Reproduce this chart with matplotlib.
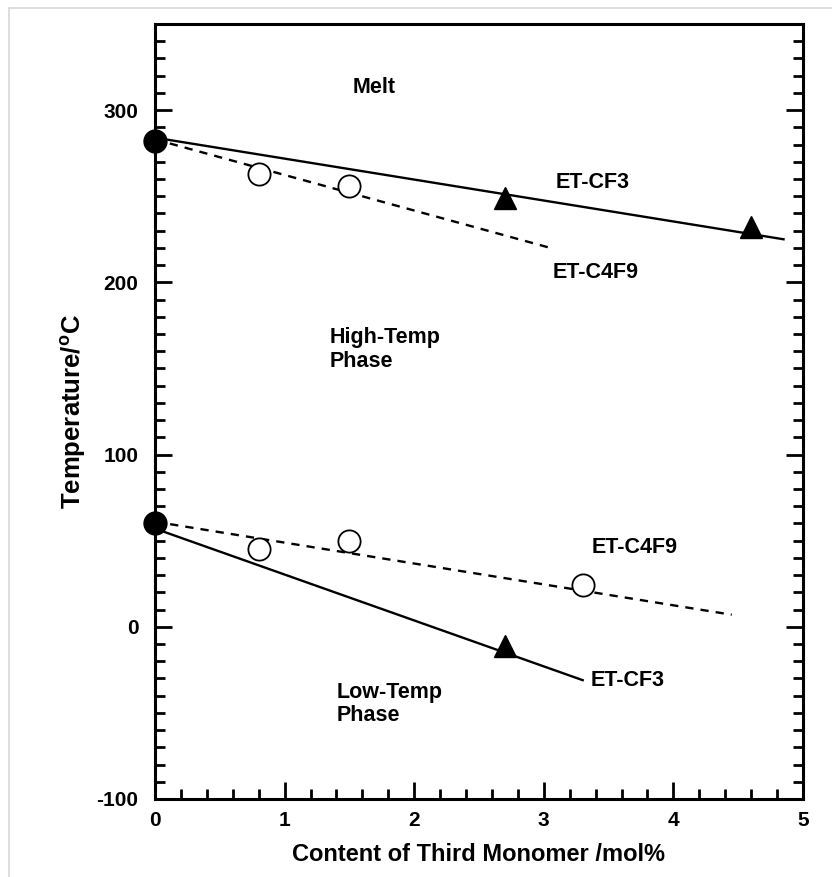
import numpy as np
import matplotlib
matplotlib.use("Agg")
import matplotlib.pyplot as plt
from matplotlib.ticker import MultipleLocator
from matplotlib.lines import Line2D

plt.rcParams["font.family"] = ["Liberation Sans", "DejaVu Sans"]
plt.rcParams["font.weight"] = "bold"
plt.rcParams["axes.labelweight"] = "bold"
plt.rcParams["axes.unicode_minus"] = False
plt.rcParams["mathtext.fontset"] = "custom"
plt.rcParams["mathtext.rm"] = "Liberation Sans:bold"

# pure polymer (0 mol%)
pure_x = [0.0, 0.0]
pure_y = [282, 60]

# ET-C4F9 points (open circles)
c4f9_high_x = [0.8, 1.5]
c4f9_high_y = [263, 256]
c4f9_low_x = [0.8, 1.5, 3.3]
c4f9_low_y = [45, 50, 24]

# ET-CF3 points (filled triangles)
cf3_high_x = [2.7, 4.6]
cf3_high_y = [249, 232]
cf3_low_x = [2.7]
cf3_low_y = [-11]

# trend lines (end points)
cf3_high_line_x = [0.0, 4.85]
cf3_high_line_y = [284, 225]
c4f9_high_line_x = [0.0, 3.05]
c4f9_high_line_y = [283, 220]
cf3_low_line_x = [0.0, 3.3]
cf3_low_line_y = [57, -31]
c4f9_low_line_x = [0.0, 4.45]
c4f9_low_line_y = [61, 7]

fig = plt.figure(figsize=(8.32, 8.77), dpi=100)
ax = fig.add_axes([155/832, 78/877, 648/832, 775/877])

lw = 1.7
ax.plot(cf3_high_line_x, cf3_high_line_y, "k-", lw=lw)
ax.plot(c4f9_high_line_x, c4f9_high_line_y, "k--", lw=lw, dashes=(3.5, 3))
ax.plot(cf3_low_line_x, cf3_low_line_y, "k-", lw=lw)
ax.plot(c4f9_low_line_x, c4f9_low_line_y, "k--", lw=lw, dashes=(3.5, 3))

ax.plot(c4f9_high_x, c4f9_high_y, "o", ms=16, mfc="white", mec="black", mew=1.3)
ax.plot(c4f9_low_x, c4f9_low_y, "o", ms=16, mfc="white", mec="black", mew=1.3)
ax.plot(cf3_high_x, cf3_high_y, "^", ms=16, color="black")
ax.plot(cf3_low_x, cf3_low_y, "^", ms=16, color="black")
ax.plot(pure_x, pure_y, "o", ms=16.5, color="black", clip_on=False, zorder=5)

fs = 15.5
ax.text(1.69, 313, "Melt", fontsize=fs, ha="center", va="center")
ax.text(3.38, 258, "ET-CF3", fontsize=fs, ha="center", va="center")
ax.text(3.4, 206, "ET-C4F9", fontsize=fs, ha="center", va="center")
ax.text(1.35, 161, "High-Temp\nPhase", fontsize=fs, ha="left", va="center", linespacing=1.15)
ax.text(3.7, 46, "ET-C4F9", fontsize=fs, ha="center", va="center")
ax.text(3.36, -31, "ET-CF3", fontsize=fs, ha="left", va="center")
ax.text(1.4, -45, "Low-Temp\nPhase", fontsize=fs, ha="left", va="center", linespacing=1.15)

ax.set_xlim(0, 5)
ax.set_ylim(-100, 350)
ax.xaxis.set_major_locator(MultipleLocator(1))
ax.xaxis.set_minor_locator(MultipleLocator(0.2))
ax.yaxis.set_major_locator(MultipleLocator(100))
ax.yaxis.set_minor_locator(MultipleLocator(10))
ax.tick_params(which="both", direction="in", top=False, right=True, width=2, labelsize=15)
ax.tick_params(axis="y", pad=12)
ax.tick_params(axis="x", pad=9)
ax.tick_params(which="major", length=12)
ax.tick_params(which="minor", length=7)
for s in ax.spines.values():
    s.set_linewidth(2.2)

ax.set_xlabel("Content of Third Monomer /mol%", fontsize=17, labelpad=9)
ax.set_ylabel(r"Temperature/$^{\rm o}$C", fontsize=18.5, labelpad=6)

# thin grey frame on the top and left
fig.add_artist(Line2D([9/832, 1], [1 - 8/877, 1 - 8/877], color="#d8d8d8", lw=1.2))
fig.add_artist(Line2D([9/832, 9/832], [0, 1 - 8/877], color="#d8d8d8", lw=1.2))

fig.savefig("out.png", dpi=100)
